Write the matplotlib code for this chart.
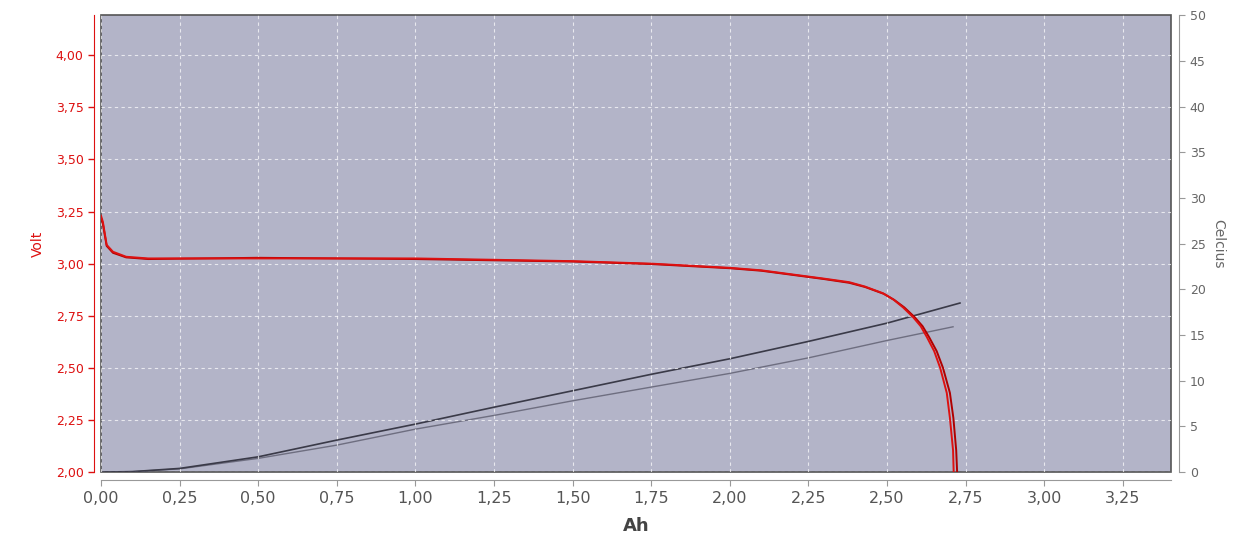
import numpy as np
import matplotlib
matplotlib.use("Agg")
import matplotlib.pyplot as plt
from matplotlib.ticker import FuncFormatter, MultipleLocator

# voltage curves (Ah, Volt)
ah_v1 = [0.0, 0.006, 0.018, 0.038, 0.08, 0.15, 0.5, 1.0, 1.5, 1.75, 2.0, 2.1, 2.2, 2.3, 2.38,
         2.43, 2.487, 2.52, 2.551, 2.583, 2.607, 2.627, 2.65, 2.669, 2.69, 2.70, 2.71, 2.712]
volt1 = [3.23, 3.20, 3.09, 3.057, 3.033, 3.025, 3.025, 3.025, 3.012, 3.0, 2.98, 2.968, 2.948, 2.928, 2.911,
         2.89, 2.858, 2.828, 2.79, 2.743, 2.70, 2.647, 2.58, 2.50, 2.38, 2.26, 2.105, 2.0]
ah_v2 = [0.0, 0.006, 0.018, 0.038, 0.08, 0.15, 0.5, 1.0, 1.5, 1.75, 2.0, 2.1, 2.2, 2.3, 2.38,
         2.43, 2.49, 2.523, 2.555, 2.588, 2.613, 2.634, 2.658, 2.678, 2.70, 2.711, 2.72, 2.723]
volt2 = [3.22, 3.19, 3.085, 3.052, 3.03, 3.022, 3.028, 3.022, 3.01, 2.998, 2.978, 2.966, 2.946, 2.926, 2.908,
         2.888, 2.855, 2.826, 2.79, 2.743, 2.70, 2.647, 2.58, 2.50, 2.38, 2.26, 2.105, 2.0]

# temperature curves (Ah, Celcius)
ah_t1 = [0.0, 0.1, 0.25, 0.5, 0.75, 1.0, 1.25, 1.5, 1.75, 2.0, 2.25, 2.5, 2.732]
temp1 = [0.0, 0.05, 0.4, 1.67, 3.5, 5.25, 7.1, 8.9, 10.7, 12.4, 14.3, 16.3, 18.5]
ah_t2 = [0.0, 0.1, 0.25, 0.5, 0.75, 1.0, 1.25, 1.5, 1.75, 2.0, 2.25, 2.5, 2.71]
temp2 = [0.0, 0.05, 0.35, 1.5, 2.95, 4.7, 6.2, 7.8, 9.3, 10.8, 12.5, 14.4, 15.9]

red = "#dd1111"
grey = "#666666"

fig = plt.figure(figsize=(12.47, 5.42), dpi=100)
ax = fig.add_axes([0.081, 0.129, 0.858, 0.843])
ax2 = ax.twinx()

# temperature axis sits underneath and carries the background
ax2.set_zorder(1)
ax.set_zorder(2)
ax.patch.set_visible(False)
ax2.patch.set_visible(True)
ax2.patch.set_facecolor("#b3b4c8")
ax2.patch.set_edgecolor("#555555")
ax2.patch.set_linewidth(1.2)

ax.set_xlim(0, 3.403)
ax.set_ylim(2.0, 4.192)

ax.xaxis.set_major_locator(MultipleLocator(0.25))
ax.yaxis.set_major_locator(MultipleLocator(0.25))
comma = FuncFormatter(lambda v, p: f"{v:.2f}".replace(".", ","))
ax.xaxis.set_major_formatter(comma)
ax.yaxis.set_major_formatter(comma)

ax.grid(True, color="white", linestyle=(0, (3, 3)), linewidth=0.8, alpha=0.7)

for s in ["top", "right"]:
    ax.spines[s].set_visible(False)
ax.spines["left"].set_position(("outward", 5))
ax.spines["left"].set_color(red)
ax.spines["bottom"].set_position(("outward", 6))
ax.spines["bottom"].set_color("#999999")

ax.tick_params(axis="y", colors=red, labelsize=9, length=4, width=1)
ax.tick_params(axis="x", colors="#999999", labelcolor="#555555", labelsize=11.5, length=4)

ax.set_ylabel("Volt", color=red, fontsize=10, labelpad=8)
ax.set_xlabel("Ah", color="#444444", fontsize=13, fontweight="bold", labelpad=8)

ax2.set_ylim(0, 50)
ax2.yaxis.set_major_locator(MultipleLocator(5))
for s in ["top", "left", "bottom"]:
    ax2.spines[s].set_visible(False)
ax2.spines["right"].set_position(("outward", 6))
ax2.spines["right"].set_color("#999999")
ax2.tick_params(axis="y", colors="#999999", labelcolor="#666666", labelsize=9, length=4)
ax2.set_ylabel("Celcius", color=grey, fontsize=10, rotation=-90, labelpad=14)

ax2.plot(ah_t2, temp2, color="#6e6e80", linewidth=1.0)
ax2.plot(ah_t1, temp1, color="#3a3a48", linewidth=1.2)

ax.plot(ah_v2, volt2, color="#b00000", linewidth=1.4)
ax.plot(ah_v1, volt1, color=red, linewidth=1.4)

fig.savefig("out.png", dpi=100)
